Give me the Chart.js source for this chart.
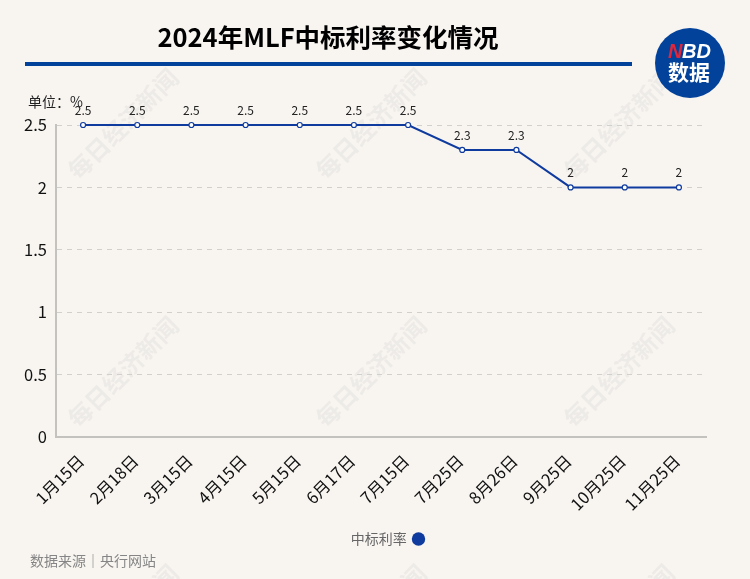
<!DOCTYPE html>
<html>
<head>
<meta charset="utf-8">
<script src="https://cdn.jsdelivr.net/npm/chart.js@4/dist/chart.umd.min.js"></script>
<style>
  html, body { margin: 0; padding: 0; background: #f8f5f1; }
  #wrap { width: 750px; height: 579px; position: relative; }
</style>
</head>
<body>
<div id="wrap"><canvas id="rateChart" width="750" height="579"></canvas></div>
<script>
const categories = ['1月15日', '2月18日', '3月15日', '4月15日', '5月15日', '6月17日', '7月15日', '7月25日', '8月26日', '9月25日', '10月25日', '11月25日'];
const rates = [2.5, 2.5, 2.5, 2.5, 2.5, 2.5, 2.5, 2.3, 2.3, 2, 2, 2];
const seriesName = '中标利率';
const titleText = '2024年MLF中标利率变化情况';
const unitText = '单位：%';
const sourceText = '数据来源｜央行网站';
const watermarkText = '每日经济新闻';

const FONT = '"Noto Sans CJK SC", "Noto Sans", sans-serif';
const BLUE = '#0f3b9f';

// everything that is not a mark: watermark, title, logo, unit, source
const backdrop = {
  id: 'backdrop',
  afterLayout(chart) {
    // legend sits a bit right of the plot centre
    chart.legend.left += 34;
    chart.legend.right += 34;
  },
  beforeDraw(chart) {
    const ctx = chart.ctx;
    ctx.save();
    ctx.fillStyle = '#f8f5f1';
    ctx.fillRect(0, 0, chart.width, chart.height);

    ctx.font = 'bold 24px ' + FONT;
    ctx.fillStyle = 'rgba(150,150,150,0.1)';
    ctx.textAlign = 'center';
    ctx.textBaseline = 'middle';
    [124, 372, 620].forEach(cy => {
      [123, 371, 619].forEach(cx => {
        ctx.save();
        ctx.translate(cx, cy);
        ctx.rotate(-Math.PI / 4);
        ctx.fillText(watermarkText, 0, 0);
        ctx.restore();
      });
    });

    ctx.fillStyle = '#000';
    ctx.font = 'bold 25.5px ' + FONT;
    ctx.fillText(titleText, 328, 37);

    ctx.fillStyle = '#03429a';
    ctx.fillRect(25, 62, 607, 4);

    // logo
    ctx.beginPath();
    ctx.arc(690, 63, 35, 0, Math.PI * 2);
    ctx.fillStyle = '#03429a';
    ctx.fill();
    ctx.textAlign = 'left';
    ctx.font = 'italic bold 20px "Liberation Sans", sans-serif';
    ctx.fillStyle = '#e0263a';
    ctx.fillText('N', 668, 52);
    ctx.fillStyle = '#fff';
    ctx.fillText('BD', 682, 52);
    ctx.font = 'bold 21px ' + FONT;
    ctx.textAlign = 'center';
    ctx.fillText('数据', 689, 72);

    ctx.fillStyle = '#222';
    ctx.font = '14px ' + FONT;
    ctx.textAlign = 'left';
    ctx.fillText(unitText, 28, 102);

    ctx.fillStyle = '#858585';
    ctx.font = '14px ' + FONT;
    ctx.fillText(sourceText, 30, 561);
    ctx.restore();
  }
};

// value above each point
const pointLabels = {
  id: 'pointLabels',
  afterDatasetsDraw(chart) {
    const ctx = chart.ctx;
    const pts = chart.getDatasetMeta(0).data;
    ctx.save();
    ctx.font = '12px ' + FONT;
    ctx.fillStyle = '#222';
    ctx.textAlign = 'center';
    ctx.textBaseline = 'middle';
    pts.forEach((p, i) => ctx.fillText(String(rates[i]), p.x, p.y - 15));
    ctx.restore();
  }
};

new Chart(document.getElementById('rateChart'), {
  type: 'line',
  data: {
    labels: categories,
    datasets: [{
      label: seriesName,
      data: rates,
      borderColor: BLUE,
      backgroundColor: BLUE,
      borderWidth: 2,
      tension: 0,
      clip: false,
      pointRadius: 2.5,
      pointBorderWidth: 1.2,
      pointBackgroundColor: '#fff',
      pointBorderColor: BLUE
    }]
  },
  plugins: [backdrop, pointLabels],
  options: {
    responsive: false,
    animation: false,
    layout: { padding: { top: 125, left: 0, right: 44, bottom: 23 } },
    scales: {
      x: {
        offset: true,
        afterFit: s => { s.height = 87; },
        border: { color: '#c4c2be', width: 2 },
        grid: { display: false },
        ticks: { color: '#111', font: { family: FONT, size: 16.5 }, minRotation: 45, maxRotation: 45, autoSkip: false, padding: 6, labelOffset: -2 }
      },
      y: {
        min: 0,
        max: 2.5,
        afterFit: s => { s.width = 56; },
        border: { color: '#c4c2be', width: 2, dash: [5, 5] },
        grid: { color: '#d2d0cc', tickLength: 0 },
        ticks: { stepSize: 0.5, color: '#111', font: { family: FONT, size: 16.5 }, padding: 9, callback: v => String(v) }
      }
    },
    plugins: {
      title: { display: false },
      tooltip: { enabled: false },
      legend: {
        position: 'bottom',
        rtl: true,
        labels: {
          color: '#666',
          font: { family: FONT, size: 14 },
          usePointStyle: true,
          pointStyle: 'circle',
          boxHeight: 9.5,
          boxWidth: 9.5,
          padding: 8,
          generateLabels: chart => [{
            text: seriesName,
            fillStyle: BLUE,
            strokeStyle: BLUE,
            lineWidth: 0,
            pointStyle: 'circle',
            fontColor: '#666',
            datasetIndex: 0
          }]
        }
      }
    }
  }
});
</script>
</body>
</html>
